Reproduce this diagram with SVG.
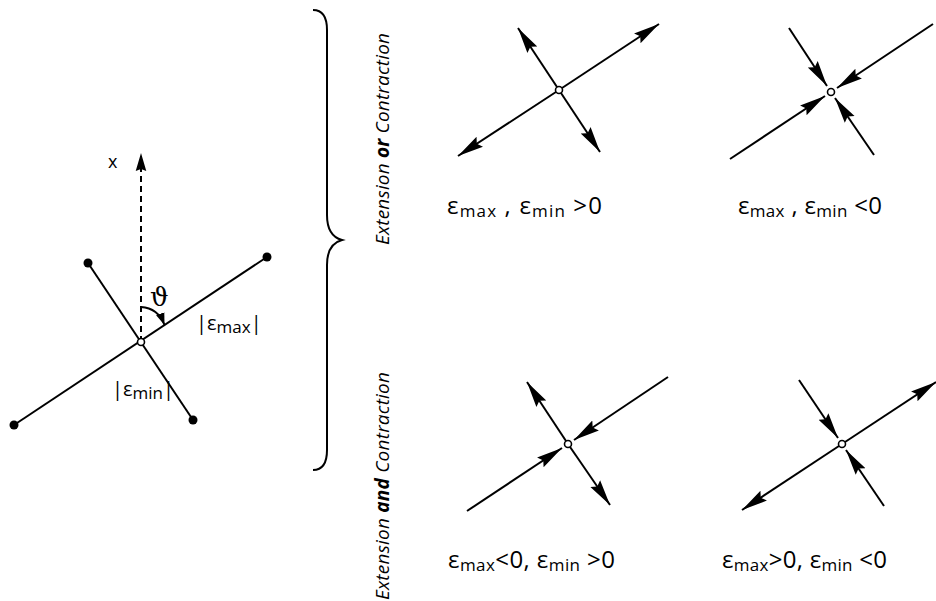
<svg xmlns="http://www.w3.org/2000/svg" width="936" height="601" viewBox="0 0 936 601">
<style>
.ln{stroke:#000;stroke-width:2;fill:none}
.ar{stroke:#000;stroke-width:2;fill:none;marker-end:url(#ah)}
.dot{fill:#000}
.ctr{fill:#fff;stroke:#000;stroke-width:1.6}
.t{font-family:"Open Sans","Liberation Sans",sans-serif;fill:#000}
.lab{font-size:24px}
.sub{font-size:17px}
.rot{font-family:"Open Sans","Liberation Sans",sans-serif;font-size:19px;font-style:italic}
</style>
<defs>
<marker id="ah" markerUnits="userSpaceOnUse" markerWidth="26" markerHeight="14" refX="22" refY="5" orient="auto" viewBox="0 0 22 10">
<path d="M0,0 L22,5 L0,10 L3,5 z" fill="#000"/>
</marker>
<marker id="ahx" markerUnits="userSpaceOnUse" markerWidth="18" markerHeight="12" refX="17" refY="5" orient="auto" viewBox="0 0 17 10">
<path d="M0,0 L17,5 L0,10 L2,5 z" fill="#000"/>
</marker>
<marker id="ahs" markerUnits="userSpaceOnUse" markerWidth="12" markerHeight="10" refX="11" refY="4" orient="auto" viewBox="0 0 11 8">
<path d="M0,0 L11,4 L0,8 z" fill="#000"/>
</marker>
</defs>

<g id="principal-axes">
<line class="ln" x1="14" y1="425" x2="267" y2="257"/>
<line class="ln" x1="88" y1="263" x2="193" y2="420"/>
<line x1="141" y1="342" x2="141" y2="153" stroke="#000" stroke-width="2" stroke-dasharray="6,4" marker-end="url(#ahx)"/>
<path d="M141,307 Q158,308 164.5,325" stroke="#000" stroke-width="2" fill="none" marker-end="url(#ahs)"/>
<circle class="dot" cx="14" cy="425" r="4.5"/>
<circle class="dot" cx="267" cy="257" r="4.5"/>
<circle class="dot" cx="88" cy="263" r="4.5"/>
<circle class="dot" cx="193" cy="420" r="4.5"/>
<circle class="ctr" cx="141" cy="342" r="3.5"/>
<text class="t" x="108" y="168" font-size="18">x</text>
<text x="150" y="306" font-family="DejaVu Serif,serif" font-size="26">ϑ</text>
<text class="t" x="196" y="330" font-size="20">|ε<tspan class="sub" dy="3">max</tspan><tspan dy="-3">|</tspan></text>
<text class="t" x="112" y="396" font-size="20">|ε<tspan class="sub" dy="3">min</tspan><tspan dy="-3">|</tspan></text>
</g>

<g id="brace">
<path class="ln" d="M313,10 Q327,10 327,30 L327,215 Q327,236 342,240 Q327,244 327,265 L327,450 Q327,470 313,470"/>
</g>

<g id="label-or">
<text class="rot" transform="translate(389,245) rotate(-90)" textLength="212" lengthAdjust="spacing">Extension <tspan font-weight="bold">or</tspan> Contraction</text>
</g>
<g id="label-and">
<text class="rot" transform="translate(389,600) rotate(-90)" textLength="228" lengthAdjust="spacing">Extension <tspan font-weight="bold">and</tspan> Contraction</text>
</g>

<g id="connectors">
<!-- fig1 -->
<line class="ar" x1="559" y1="90" x2="659" y2="24"/>
<line class="ar" x1="559" y1="90" x2="458" y2="156"/>
<line class="ar" x1="559" y1="90" x2="518" y2="28"/>
<line class="ar" x1="559" y1="90" x2="600" y2="152"/>
<!-- fig2 -->
<line class="ar" x1="933" y1="24" x2="837" y2="88"/>
<line class="ar" x1="730" y1="159" x2="825" y2="96"/>
<line class="ar" x1="789" y1="28" x2="827" y2="86"/>
<line class="ar" x1="874" y1="155" x2="835" y2="98"/>
<!-- fig3 -->
<line class="ar" x1="668" y1="377" x2="574" y2="440"/>
<line class="ar" x1="467" y1="511" x2="562" y2="448"/>
<line class="ar" x1="568" y1="444" x2="527" y2="382"/>
<line class="ar" x1="568" y1="444" x2="610" y2="505"/>
<!-- fig4 -->
<line class="ar" x1="842" y1="444" x2="936" y2="382"/>
<line class="ar" x1="842" y1="444" x2="742" y2="510"/>
<line class="ar" x1="799" y1="380" x2="838" y2="438"/>
<line class="ar" x1="884" y1="506" x2="846" y2="450"/>
</g>

<g id="fig1">
<circle class="ctr" cx="559" cy="90" r="3.5"/>
<text class="t lab" x="447" y="214" textLength="155" lengthAdjust="spacing">ε<tspan class="sub" dy="3">max</tspan><tspan dy="-3"> , ε</tspan><tspan class="sub" dy="3">min</tspan><tspan dy="-3"> &gt;0</tspan></text>
</g>
<g id="fig2">
<circle class="ctr" cx="831" cy="92" r="3.5"/>
<text class="t lab" x="738" y="214" textLength="144" lengthAdjust="spacing">ε<tspan class="sub" dy="3">max</tspan><tspan dy="-3"> , ε</tspan><tspan class="sub" dy="3">min</tspan><tspan dy="-3"> &lt;0</tspan></text>
</g>
<g id="fig3">
<circle class="ctr" cx="568" cy="444" r="3.5"/>
<text class="t lab" x="448" y="568" textLength="167" lengthAdjust="spacing">ε<tspan class="sub" dy="3">max</tspan><tspan dy="-3">&lt;0, ε</tspan><tspan class="sub" dy="3">min</tspan><tspan dy="-3"> &gt;0</tspan></text>
</g>
<g id="fig4">
<circle class="ctr" cx="842" cy="444" r="3.5"/>
<text class="t lab" x="722" y="568" textLength="165" lengthAdjust="spacing">ε<tspan class="sub" dy="3">max</tspan><tspan dy="-3">&gt;0, ε</tspan><tspan class="sub" dy="3">min</tspan><tspan dy="-3"> &lt;0</tspan></text>
</g>
</svg>
